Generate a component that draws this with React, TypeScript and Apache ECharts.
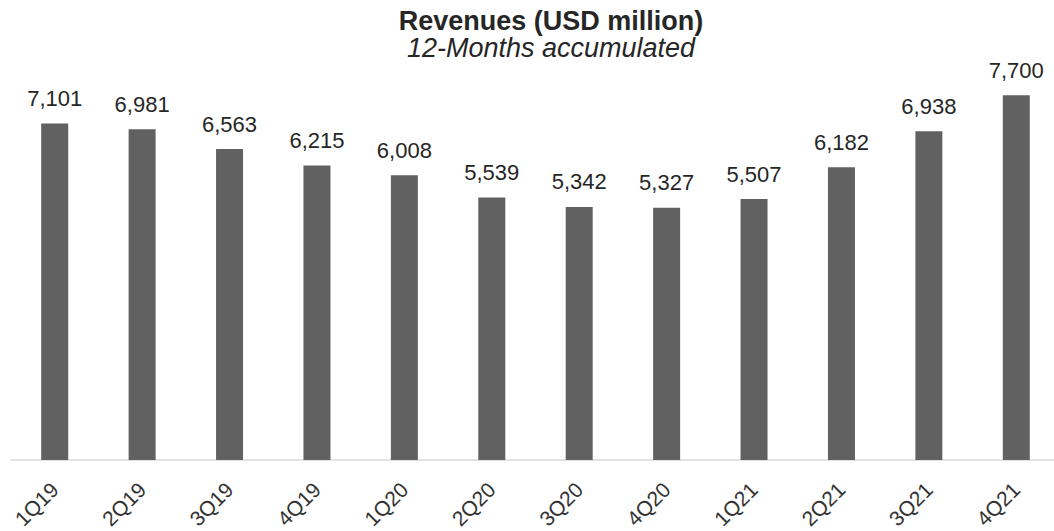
import React, { useEffect, useRef } from "react";
import * as echarts from "echarts";

const categories = ["1Q19", "2Q19", "3Q19", "4Q19", "1Q20", "2Q20", "3Q20", "4Q20", "1Q21", "2Q21", "3Q21", "4Q21"];
const revenues = [7101, 6981, 6563, 6215, 6008, 5539, 5342, 5327, 5507, 6182, 6938, 7700];
const titleText = "Revenues (USD million)";
const subtitleText = "12-Months accumulated";

const FONT = "'Liberation Sans', Arial, sans-serif";

export default function App() {
  const ref = useRef<HTMLDivElement>(null);
  useEffect(() => {
    document.body.style.margin = "0";
    const chart = echarts.init(ref.current!, null, { renderer: "svg" });
    chart.setOption({
      animation: false,
      backgroundColor: "#ffffff",
      graphic: [
        {
          type: "text",
          x: 551,
          y: 21,
          style: {
            text: titleText,
            font: `bold 27px ${FONT}`,
            fill: "#262626",
            textAlign: "center",
            textVerticalAlign: "middle",
          },
        },
        {
          type: "text",
          x: 551,
          y: 48,
          style: {
            text: subtitleText,
            font: `italic 27px ${FONT}`,
            fill: "#262626",
            textAlign: "center",
            textVerticalAlign: "middle",
          },
        },
      ],
      grid: { left: 11, width: 1049, top: 81, bottom: 71, containLabel: false, outerBoundsMode: "none" },
      xAxis: {
        type: "category",
        data: categories,
        axisLine: { show: true, lineStyle: { color: "#d9d9d9", width: 1.5 } },
        axisTick: { show: false },
        axisLabel: {
          rotate: 45,
          margin: 26,
          fontSize: 21,
          fontFamily: FONT,
          color: "#333333",
          interval: 0,
        },
      },
      yAxis: {
        type: "value",
        min: 0,
        max: 8000,
        show: false,
        splitLine: { show: false },
      },
      series: [
        {
          type: "bar",
          data: revenues,
          barWidth: 27,
          itemStyle: { color: "#616161" },
          label: {
            show: true,
            position: "top",
            distance: 14,
            fontSize: 22,
            fontFamily: FONT,
            color: "#262626",
            formatter: (p: any) => Number(p.value).toLocaleString("en-US"),
          },
        },
      ],
    });
    return () => chart.dispose();
  }, []);
  return <div ref={ref} style={{ width: 1054, height: 531 }} />;
}
